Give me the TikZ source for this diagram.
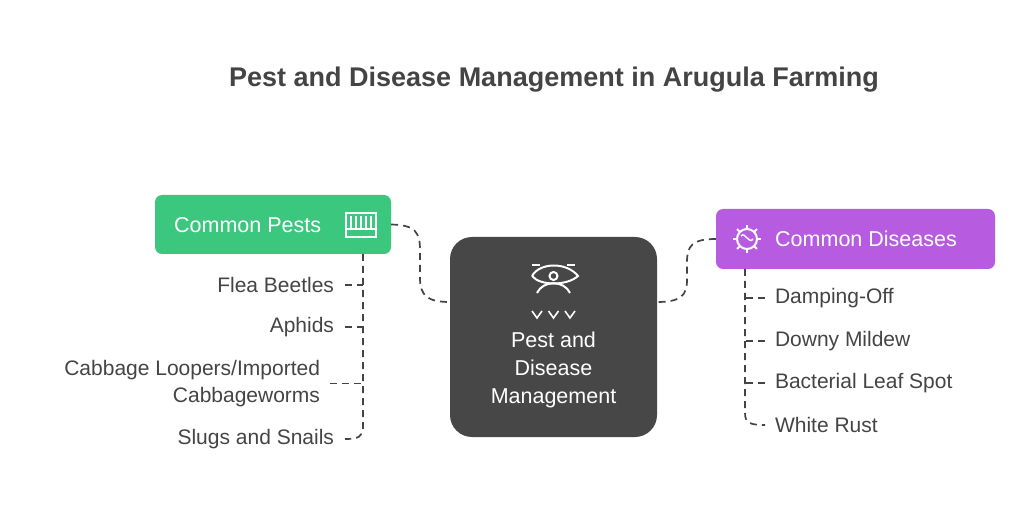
\documentclass[tikz,border=0pt]{standalone}
\usepackage{fontspec}
\setmainfont{Liberation Sans}
\usetikzlibrary{positioning}
\definecolor{pestcolor}{HTML}{3CC77F}
\definecolor{diseasecolor}{HTML}{B75CE0}
\definecolor{centercolor}{HTML}{474747}
\definecolor{textcolor}{HTML}{444444}
\tikzset{
  topic/.style={rectangle, rounded corners=7pt, text=white, inner sep=0pt},
  leaf/.style={text=textcolor, font=\fontsize{21}{27}\selectfont, inner sep=0pt, outer sep=0pt},
  link/.style={draw=textcolor, line width=1.7pt, dash pattern=on 7pt off 5pt},
  glyph/.style={draw=white, line width=2pt}
}
\begin{document}
\begin{tikzpicture}[x=1pt, y=-1pt]
    \useasboundingbox (0,0) rectangle (1024,510);
    % Title
    \node[font=\bfseries\fontsize{27}{32}\selectfont, text=textcolor] (title) at (554,80) {Pest and Disease Management in Arugula Farming};

    % Center
    \node[topic, fill=centercolor, rounded corners=22pt, minimum width=207pt, minimum height=200pt] (center) at (553.5,337) {};
    \node[text=white, font=\fontsize{21.5}{28}\selectfont, align=center] (centertext) at (553.5,370) {Pest and\\Disease\\Management};
    \coordinate (cleft) at (450,302);
    \coordinate (cright) at (657,302);
    % center icon
    \draw[glyph] (532,265) -- (540,265) (567,265) -- (575,265);
    \draw[glyph] (553.5,276) circle (4pt);
    \draw[glyph] (532,276) .. controls (540,262) and (567,262) .. (578,276) .. controls (567,286) and (540,286) .. (532,276);
    \draw[glyph] (537,293) .. controls (543,280) and (564,280) .. (570,293);
    \foreach \x in {537,553.5,570} \draw[glyph, line width=1.6pt] (\x-5,311) -- (\x,318) -- (\x+5,311);

    % Pests
    \node[topic, fill=pestcolor, minimum width=236pt, minimum height=59pt] (pests) at (273,224.5) {};
    \node[text=white, font=\fontsize{21.5}{26}\selectfont, anchor=west, inner sep=0pt] (peststext) at (174,225) {Common Pests};
    \draw[glyph] (346,213) rectangle (376,237);
    \foreach \x in {351,356,361,366,371} \draw[white, line width=1.2pt] (\x,216) -- (\x,228);
    \draw[glyph] (346,229) -- (376,229);

    % Diseases
    \node[topic, fill=diseasecolor, minimum width=279pt, minimum height=60pt] (diseases) at (855.5,239) {};
    \node[text=white, font=\fontsize{21.5}{26}\selectfont, anchor=west, inner sep=0pt] (diseasestext) at (775,239) {Common Diseases};
    \draw[glyph] (747,239) circle (10pt);
    \foreach \a in {0,45,...,315} \draw[white, line width=1.8pt] (747,239) ++(\a:10pt) -- ++(\a:4pt);
    \draw[white, line width=1.5pt] (741,236) .. controls (745,231) and (749,245) .. (753,239);

    % Pest leaves
    \node[leaf, anchor=east] (p1) at (334,285) {Flea Beetles};
    \node[leaf, anchor=east] (p2) at (334,327) {Aphids};
    \node[leaf, anchor=east, align=right] (p3) at (320,383.5) {Cabbage Loopers/Imported\\Cabbageworms};
    \node[leaf, anchor=east] (p4) at (334,439) {Slugs and Snails};
    \coordinate (pbase) at (363,254);

    % Disease leaves
    \node[leaf, anchor=west] (d1) at (775,298) {Damping-Off};
    \node[leaf, anchor=west] (d2) at (775,341) {Downy Mildew};
    \node[leaf, anchor=west] (d3) at (775,383) {Bacterial Leaf Spot};
    \node[leaf, anchor=west] (d4) at (775,425) {White Rust};
    \coordinate (dbase) at (745,269);

    % Connectors
    \draw[link] (pests.east) .. controls (415,225) and (420,232) .. (420,250) -- (420,278) .. controls (420,296) and (428,302) .. (cleft);
    \draw[link] (diseases.west) .. controls (692,239) and (687,246) .. (687,262) -- (687,280) .. controls (687,296) and (680,302) .. (cright);
    \draw[link] (pbase) -- (363,427) .. controls (363,437) and (358,439) .. ([xshift=11pt]p4.east);
    \foreach \n in {p1,p2} \draw[link] ([xshift=11pt]\n.east) -- (\n.east -| pbase);
    \draw[link] ([xshift=10pt]p3.east) -- (p3.east -| pbase);
    \draw[link] (dbase) -- (745,413) .. controls (745,423) and (750,425) .. ([xshift=-10pt]d4.west);
    \foreach \n in {d1,d2,d3} \draw[link] ([xshift=-10pt]\n.west) -- (\n.west -| dbase);
\end{tikzpicture}
\end{document}
